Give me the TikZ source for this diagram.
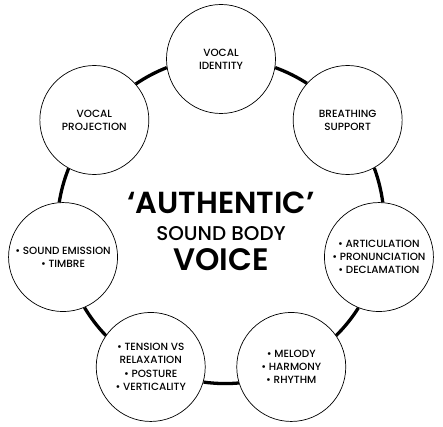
\documentclass[tikz,border=0pt]{standalone}
\usepackage{fontspec}
\setmainfont{Poppins Medium}
\newfontfamily\titlefont{Poppins SemiBold}
\usetikzlibrary{positioning}

\tikzset{
  topic/.style={draw=black, line width=0.6pt, circle, fill=white, align=center,
    minimum size=3.27cm, inner sep=0pt,
    font=\fontsize{8.9}{11.3}\selectfont},
  ring/.style={line width=2.8pt, black},
}

\begin{document}
\begin{tikzpicture}[x=0.03cm, y=0.03cm]
\useasboundingbox (-221,-206) rectangle (222,221);

% the outer chain of topics
\node[topic] (identity)     at (90:162)     {VOCAL\\IDENTITY};
\node[topic] (breathing)    at (38.57:162)  {BREATHING\\SUPPORT};
\node[topic] (articulation) at (-12.86:162) {\textbullet{} ARTICULATION\\\textbullet{} PRONUNCIATION\\\textbullet{} DECLAMATION};
\node[topic] (melody)       at (-64.29:162) {\textbullet{} MELODY\\\textbullet{} HARMONY\\\textbullet{} RHYTHM};
\node[topic] (tension)      at (-115.71:162) {\textbullet{} TENSION VS\\RELAXATION\\\textbullet{} POSTURE\\\textbullet{} VERTICALITY};
\node[topic] (emission)     at (-167.14:162) {\textbullet{} SOUND EMISSION\\\textbullet{} TIMBRE};
\node[topic] (projection)   at (141.43:162) {VOCAL\\PROJECTION};

% thick ring pieces, clockwise from one circle to the next
\foreach \a/\pa/\b [evaluate=\pa as \sa using \pa-99.7,
                    evaluate=\pa as \eb using \pa+48.27] in
    {identity/90/breathing, breathing/38.57/articulation, articulation/-12.86/melody,
     melody/-64.29/tension, tension/-115.71/emission, emission/-167.14/projection,
     projection/141.43/identity}
  \draw[ring] (\a.\sa) to[bend left=6.35, looseness=0.86] (\b.\eb);

% centre title
\node[font=\titlefont] (authentic) at (0,18)  {\fontsize{26}{27}\selectfont ‘AUTHENTIC’};
\node (sound)     at (0,-13) {\fontsize{17}{17}\selectfont SOUND BODY};
\node[font=\titlefont] (voice)     at (0,-39) {\fontsize{26.5}{28}\selectfont VOICE};
\end{tikzpicture}
\end{document}
